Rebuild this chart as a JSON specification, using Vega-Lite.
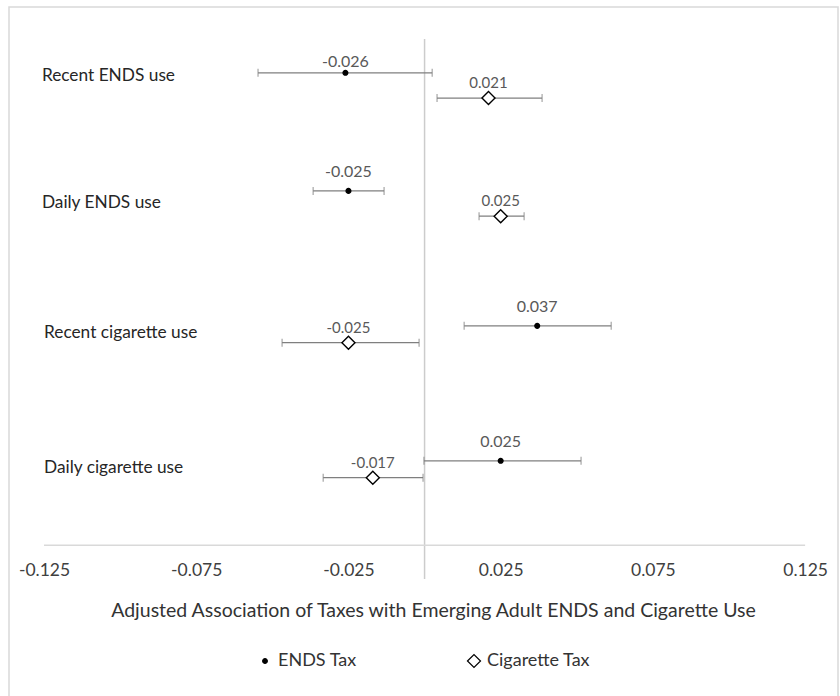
{
  "$schema": "https://vega.github.io/schema/vega-lite/v6.json",
  "autosize": {"type": "none"},
  "padding": {"left": 9, "top": 7, "right": 2, "bottom": 0},
  "width": 829,
  "height": 690,
  "config": {
    "view": {"stroke": "#d9d9d9", "strokeWidth": 1.5},
    "font": "Lato",
    "locale": {"number": {"decimal": ".", "thousands": ",", "grouping": [3], "currency": ["$", ""], "minus": "-"}}
  },
  "datasets": {
    "est": [
      {"outcome": "Recent ENDS use", "series": "ENDS Tax", "est": -0.026, "lo": -0.0547, "hi": 0.0025, "y": 15.0},
      {"outcome": "Recent ENDS use", "series": "Cigarette Tax", "est": 0.021, "lo": 0.0041, "hi": 0.0386, "y": 14.25},
      {"outcome": "Daily ENDS use", "series": "ENDS Tax", "est": -0.025, "lo": -0.0366, "hi": -0.0133, "y": 11.5},
      {"outcome": "Daily ENDS use", "series": "Cigarette Tax", "est": 0.025, "lo": 0.0179, "hi": 0.0327, "y": 10.75},
      {"outcome": "Recent cigarette use", "series": "ENDS Tax", "est": 0.037, "lo": 0.013, "hi": 0.0613, "y": 7.5},
      {"outcome": "Recent cigarette use", "series": "Cigarette Tax", "est": -0.025, "lo": -0.0468, "hi": -0.0018, "y": 7.0},
      {"outcome": "Daily cigarette use", "series": "ENDS Tax", "est": 0.025, "lo": -0.0002, "hi": 0.0514, "y": 3.5},
      {"outcome": "Daily cigarette use", "series": "Cigarette Tax", "est": -0.017, "lo": -0.0333, "hi": -0.0005, "y": 3.0}
    ],
    "outcomes": [
      {"outcome": "Recent ENDS use", "x": -0.1257, "y": 14.9},
      {"outcome": "Daily ENDS use", "x": -0.1257, "y": 11.15},
      {"outcome": "Recent cigarette use", "x": -0.125, "y": 7.3},
      {"outcome": "Daily cigarette use", "x": -0.125, "y": 3.3}
    ],
    "zero": [{"x": 0, "y0": 0, "y1": 16}],
    "xaxis": [{"x0": -0.125, "x1": 0.125, "y": 1}]
  },
  "layer": [
    {
      "data": {"name": "zero"},
      "mark": {"type": "rule", "color": "#cccccc", "strokeWidth": 1.5},
      "encoding": {
        "x": {"field": "x", "type": "quantitative", "scale": {"domain": [-0.1365, 0.1358], "nice": false, "zero": false},
          "axis": {
            "values": [-0.125, -0.075, -0.025, 0.025, 0.075, 0.125],
            "format": ".3f",
            "domain": false, "ticks": false, "tickSize": 0, "grid": false,
            "offset": -152,
            "labelPadding": 16,
            "labelFontSize": 17.5,
            "labelColor": "#404040",
            "labelFlush": false,
            "title": "Adjusted Association of Taxes with Emerging Adult ENDS and Cigarette Use",
            "titleFontSize": 19.5,
            "titleFontWeight": "normal",
            "titleColor": "#333333",
            "titlePadding": 23,
            "titleX": 424,
            "titleAlign": "center"
          }},
        "y": {"field": "y0", "type": "quantitative", "scale": {"domain": [-3.5, 16.95], "nice": false, "zero": false}, "axis": null},
        "y2": {"field": "y1"}
      }
    },
    {
      "data": {"name": "xaxis"},
      "mark": {"type": "rule", "color": "#d9d9d9", "strokeWidth": 1.5},
      "encoding": {
        "x": {"field": "x0", "type": "quantitative"},
        "x2": {"field": "x1"},
        "y": {"field": "y", "type": "quantitative"}
      }
    },
    {
      "data": {"name": "est"},
      "mark": {"type": "rule", "color": "#7f7f7f", "strokeWidth": 1.2},
      "encoding": {
        "x": {"field": "lo", "type": "quantitative"},
        "x2": {"field": "hi"},
        "y": {"field": "y", "type": "quantitative"}
      }
    },
    {
      "data": {"name": "est"},
      "mark": {"type": "tick", "orient": "vertical", "color": "#7f7f7f", "size": 8, "thickness": 1.2},
      "encoding": {
        "x": {"field": "lo", "type": "quantitative"},
        "y": {"field": "y", "type": "quantitative"}
      }
    },
    {
      "data": {"name": "est"},
      "mark": {"type": "tick", "orient": "vertical", "color": "#7f7f7f", "size": 8, "thickness": 1.2},
      "encoding": {
        "x": {"field": "hi", "type": "quantitative"},
        "y": {"field": "y", "type": "quantitative"}
      }
    },
    {
      "data": {"name": "est"},
      "mark": {"type": "point", "filled": true, "stroke": "black", "strokeWidth": 1.4, "opacity": 1},
      "encoding": {
        "x": {"field": "est", "type": "quantitative"},
        "y": {"field": "y", "type": "quantitative"},
        "shape": {"field": "series", "type": "nominal", "scale": {"domain": ["ENDS Tax", "Cigarette Tax"], "range": ["circle", "diamond"]},
          "legend": {"orient": "none", "legendX": 247, "legendY": 645, "direction": "horizontal", "title": null,
            "labelFontSize": 18, "labelColor": "#333333", "columnPadding": 108, "labelOffset": 4,
            "symbolStrokeColor": "black", "symbolStrokeWidth": 1.2}},
        "fill": {"field": "series", "type": "nominal", "scale": {"domain": ["ENDS Tax", "Cigarette Tax"], "range": ["black", "white"]}},
        "size": {"field": "series", "type": "nominal", "scale": {"domain": ["ENDS Tax", "Cigarette Tax"], "range": [22, 170]}}
      }
    },
    {
      "data": {"name": "est"},
      "transform": [{"filter": "datum.series === 'ENDS Tax' && datum.outcome !== 'Recent ENDS use'"}],
      "mark": {"type": "text", "dy": -19, "fontSize": 16, "color": "#595959", "baseline": "middle"},
      "encoding": {
        "x": {"field": "est", "type": "quantitative"},
        "y": {"field": "y", "type": "quantitative"},
        "text": {"field": "est", "type": "quantitative", "format": ".3f"}
      }
    },
    {
      "data": {"name": "est"},
      "transform": [{"filter": "datum.series === 'ENDS Tax' && datum.outcome === 'Recent ENDS use'"}],
      "mark": {"type": "text", "dy": -11, "fontSize": 16, "color": "#595959", "baseline": "middle"},
      "encoding": {
        "x": {"field": "est", "type": "quantitative"},
        "y": {"field": "y", "type": "quantitative"},
        "text": {"field": "est", "type": "quantitative", "format": ".3f"}
      }
    },
    {
      "data": {"name": "est"},
      "transform": [{"filter": "datum.series === 'Cigarette Tax'"}],
      "mark": {"type": "text", "dy": -15, "fontSize": 15, "color": "#595959", "baseline": "middle"},
      "encoding": {
        "x": {"field": "est", "type": "quantitative"},
        "y": {"field": "y", "type": "quantitative"},
        "text": {"field": "est", "type": "quantitative", "format": ".3f"}
      }
    },
    {
      "data": {"name": "outcomes"},
      "mark": {"type": "text", "align": "left", "baseline": "middle", "fontSize": 17.3, "color": "#262626"},
      "encoding": {
        "x": {"field": "x", "type": "quantitative"},
        "y": {"field": "y", "type": "quantitative"},
        "text": {"field": "outcome", "type": "nominal"}
      }
    }
  ]
}
